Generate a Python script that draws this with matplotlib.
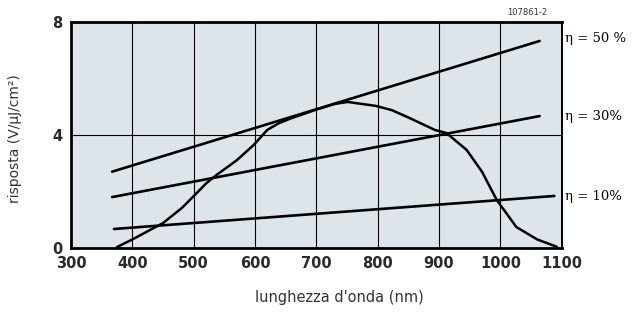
# Spectral response of a detector vs wavelength, with efficiency lines
import matplotlib.pyplot as plt

# -----------------------------
# Data
# -----------------------------
wavelength = [375, 400, 450, 481, 503, 520, 537, 570, 598, 620, 639, 660,
              700, 730, 751, 797, 823, 850, 893, 912, 945, 970, 994, 1026,
              1060, 1092]
response = [0.03, 0.30, 0.88, 1.42, 1.90, 2.28, 2.58, 3.10, 3.65, 4.18, 4.42,
            4.60, 4.90, 5.10, 5.17, 5.03, 4.88, 4.62, 4.18, 4.07, 3.47, 2.70,
            1.70, 0.74, 0.30, 0.04]

eta_labels = ["\u03b7 = 50 %", "\u03b7 = 30%", "\u03b7 = 10%"]
eta_x = [[367, 1064], [367, 1064], [370, 1088]]
eta_y = [[2.70, 7.33], [1.80, 4.67], [0.67, 1.84]]
label_y = [7.43, 4.64, 1.81]

x_ticks = [300, 400, 500, 600, 700, 800, 900, 1000, 1100]
y_ticks = [0, 4, 8]

# -----------------------------
# Figure
# -----------------------------
fig = plt.figure(figsize=(6.34, 3.15), dpi=100)
ax = fig.add_axes([0.112, 0.213, 0.774, 0.717])
ax.set_facecolor("#dde4ea")

ax.set_xlim(300, 1100)
ax.set_ylim(0, 8)

# vertical grid at each 100 nm, one horizontal line at 4
for xv in x_ticks[1:-1]:
    ax.axvline(xv, color="black", lw=0.8)
ax.axhline(4, color="black", lw=0.8)

ax.plot(wavelength, response, color="black", lw=1.8, solid_capstyle="round")
for xs, ys in zip(eta_x, eta_y):
    ax.plot(xs, ys, color="black", lw=1.9, solid_capstyle="round")

for lab, yv in zip(eta_labels, label_y):
    ax.text(1106, yv, lab, fontsize=9.5, family="DejaVu Serif",
            va="center", ha="left", clip_on=False)

for side in ["top", "left", "bottom"]:
    ax.spines[side].set_linewidth(2.0)
ax.spines["right"].set_linewidth(1.4)

ax.set_xticks(x_ticks)
ax.set_yticks(y_ticks)
ax.tick_params(length=0, labelsize=10.5)
ax.tick_params(axis="x", pad=6)
ax.tick_params(axis="y", pad=6)
for t in ax.get_xticklabels() + ax.get_yticklabels():
    t.set_family(["Liberation Sans Narrow", "DejaVu Sans"])
    t.set_fontweight("bold")
    t.set_color("#2a2a2a")

fig.text(0.024, 0.56, "risposta (V/\u00b5J/cm\u00b2)", rotation=90,
         fontsize=10, ha="center", va="center", color="#333333")
fig.text(0.536, 0.054, "lunghezza d'onda (nm)", fontsize=10.5,
         ha="center", va="center", color="#333333")
fig.text(0.832, 0.959, "107861-2", fontsize=6, ha="center", va="center",
         color="#333333")

fig.savefig("out.png", dpi=100)
